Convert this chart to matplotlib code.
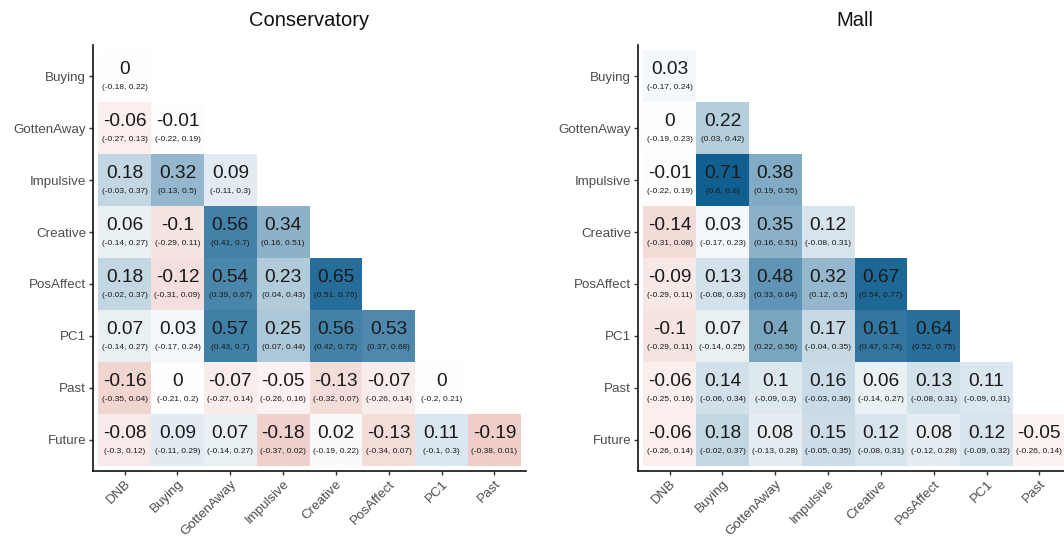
import numpy as np
import matplotlib
matplotlib.use("Agg")
import matplotlib.pyplot as plt
from matplotlib.colors import LinearSegmentedColormap

plt.rcParams['font.family'] = ['Liberation Sans', 'DejaVu Sans']

col_labels = ["DNB", "Buying", "GottenAway", "Impulsive", "Creative", "PosAffect", "PC1", "Past"]
row_labels = ["Buying", "GottenAway", "Impulsive", "Creative", "PosAffect", "PC1", "Past", "Future"]

# Conservatory (lower triangle, row by row)
cons_r = [
    [0],
    [-0.06, -0.01],
    [0.18, 0.32, 0.09],
    [0.06, -0.1, 0.56, 0.34],
    [0.18, -0.12, 0.54, 0.23, 0.65],
    [0.07, 0.03, 0.57, 0.25, 0.56, 0.53],
    [-0.16, 0, -0.07, -0.05, -0.13, -0.07, 0],
    [-0.08, 0.09, 0.07, -0.18, 0.02, -0.13, 0.11, -0.19],
]
cons_lo = [
    [-0.18],
    [-0.27, -0.22],
    [-0.03, 0.13, -0.11],
    [-0.14, -0.29, 0.41, 0.16],
    [-0.02, -0.31, 0.39, 0.04, 0.51],
    [-0.14, -0.17, 0.43, 0.07, 0.42, 0.37],
    [-0.35, -0.21, -0.27, -0.26, -0.32, -0.26, -0.2],
    [-0.3, -0.11, -0.14, -0.37, -0.19, -0.34, -0.1, -0.38],
]
cons_hi = [
    [0.22],
    [0.13, 0.19],
    [0.37, 0.5, 0.3],
    [0.27, 0.11, 0.7, 0.51],
    [0.37, 0.09, 0.67, 0.43, 0.76],
    [0.27, 0.24, 0.7, 0.44, 0.72, 0.68],
    [0.04, 0.2, 0.14, 0.16, 0.07, 0.14, 0.21],
    [0.12, 0.29, 0.27, 0.02, 0.22, 0.07, 0.3, 0.01],
]

# Mall
mall_r = [
    [0.03],
    [0, 0.22],
    [-0.01, 0.71, 0.38],
    [-0.14, 0.03, 0.35, 0.12],
    [-0.09, 0.13, 0.48, 0.32, 0.67],
    [-0.1, 0.07, 0.4, 0.17, 0.61, 0.64],
    [-0.06, 0.14, 0.1, 0.16, 0.06, 0.13, 0.11],
    [-0.06, 0.18, 0.08, 0.15, 0.12, 0.08, 0.12, -0.05],
]
mall_lo = [
    [-0.17],
    [-0.19, 0.03],
    [-0.22, 0.6, 0.19],
    [-0.31, -0.17, 0.16, -0.08],
    [-0.29, -0.08, 0.33, 0.12, 0.54],
    [-0.29, -0.14, 0.22, -0.04, 0.47, 0.52],
    [-0.25, -0.06, -0.09, -0.03, -0.14, -0.08, -0.09],
    [-0.26, -0.02, -0.13, -0.05, -0.08, -0.12, -0.09, -0.26],
]
mall_hi = [
    [0.24],
    [0.23, 0.42],
    [0.19, 0.8, 0.55],
    [0.08, 0.23, 0.51, 0.31],
    [0.11, 0.33, 0.64, 0.5, 0.77],
    [0.11, 0.25, 0.56, 0.35, 0.74, 0.75],
    [0.16, 0.34, 0.3, 0.36, 0.27, 0.31, 0.31],
    [0.14, 0.37, 0.28, 0.35, 0.31, 0.28, 0.32, 0.14],
]

panels = [
    ("Conservatory", cons_r, cons_lo, cons_hi),
    ("Mall", mall_r, mall_lo, mall_hi),
]

cmap = LinearSegmentedColormap.from_list("rb", ["#C03A28", "#FFFFFF", "#05578A"])


def fmt(v):
    s = f"{v:.2f}".rstrip("0").rstrip(".")
    if s in ("-0", ""):
        s = "0"
    return s


fig = plt.figure(figsize=(10.64, 5.45), dpi=100)
positions = [
    [93 / 1064, 1 - 471 / 545, 433 / 1064, 426 / 545],
    [638 / 1064, 1 - 471 / 545, 433 / 1064, 426 / 545],
]

n = len(row_labels)
for (title, rr, lo, hi), pos in zip(panels, positions):
    ax = fig.add_axes(pos)
    mat = np.full((n, n), np.nan)
    for i, row in enumerate(rr):
        for j, v in enumerate(row):
            mat[i, j] = v
    masked = np.ma.masked_invalid(mat)
    edges = np.arange(n + 1) - 0.5
    ax.pcolormesh(edges, edges, masked, cmap=cmap, vmin=-0.75, vmax=0.75, shading="flat")
    for i, row in enumerate(rr):
        for j, v in enumerate(row):
            ax.text(j, i - 0.12, fmt(v), ha="center", va="center", fontsize=13.8, color="#1a1a1a")
            ax.text(j, i + 0.22, f"({fmt(lo[i][j])}, {fmt(hi[i][j])})", ha="center", va="center",
                    fontsize=6.0, color="#1a1a1a")
    ax.set_xlim(-0.6, n - 1 + 0.6)
    ax.set_ylim(n - 1 + 0.6, -0.6)
    ax.set_xticks(range(n))
    ax.set_xticklabels(col_labels, rotation=45, ha="right", rotation_mode="anchor")
    ax.set_yticks(range(n))
    ax.set_yticklabels(row_labels)
    ax.tick_params(axis="both", length=3, width=1, color="#333333", labelcolor="#4D4D4D",
                   labelsize=9.6, pad=2)
    for s in ["top", "right"]:
        ax.spines[s].set_visible(False)
    for s in ["left", "bottom"]:
        ax.spines[s].set_linewidth(1.2)
        ax.spines[s].set_color("#111111")
    ax.set_title(title, fontsize=14.5, pad=14, color="#111111")

fig.savefig("out.png", dpi=100, facecolor="white")
